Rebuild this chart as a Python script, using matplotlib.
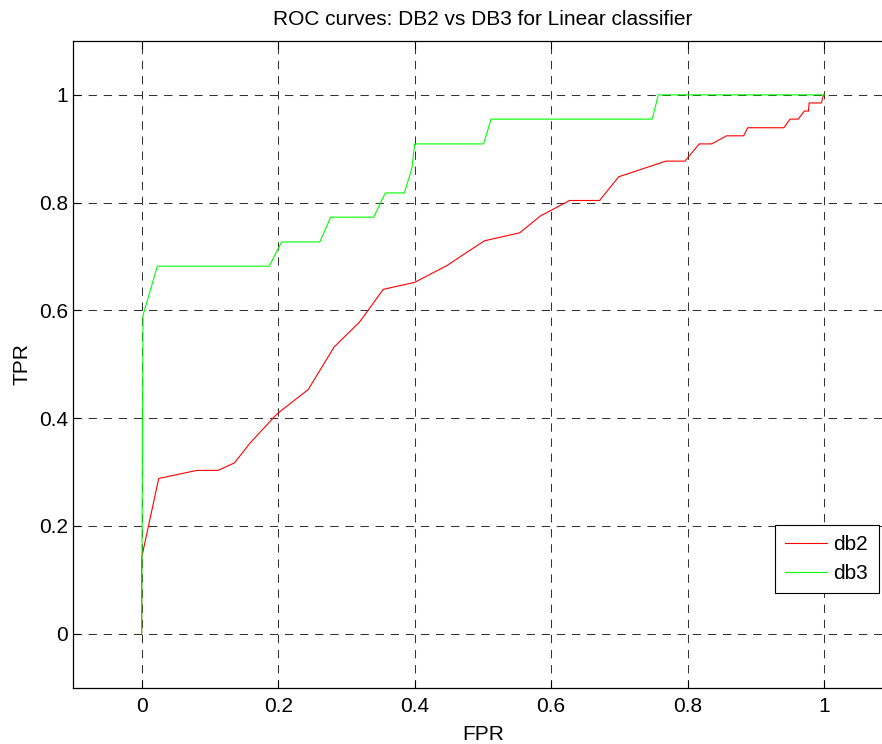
import matplotlib
matplotlib.use("Agg")
import matplotlib.pyplot as plt


# --- 1. Data ---
db2_fpr = [0.0, 0.0, 0.025, 0.081, 0.112, 0.136, 0.159, 0.1985, 0.244, 0.282,
           0.319, 0.354, 0.400, 0.447, 0.502, 0.554, 0.584, 0.627, 0.671, 0.699,
           0.768, 0.796, 0.817, 0.835, 0.857, 0.882, 0.888, 0.941, 0.950, 0.962,
           0.971, 0.977, 0.978, 0.996, 0.999, 1.0]
db2_tpr = [0.0, 0.141, 0.288, 0.303, 0.303, 0.317, 0.354, 0.408, 0.453, 0.532,
           0.578, 0.639, 0.652, 0.683, 0.729, 0.744, 0.775, 0.804, 0.804, 0.848,
           0.877, 0.877, 0.909, 0.909, 0.924, 0.924, 0.939, 0.939, 0.955, 0.955,
           0.970, 0.970, 0.985, 0.985, 1.0, 1.0]

db3_fpr = [0.0, 0.002, 0.023, 0.187, 0.205, 0.261, 0.277, 0.340, 0.357, 0.385,
           0.396, 0.400, 0.501, 0.512, 0.748, 0.757, 1.0]
db3_tpr = [0.0, 0.591, 0.682, 0.682, 0.727, 0.727, 0.773, 0.773, 0.818, 0.818,
           0.864, 0.909, 0.909, 0.955, 0.955, 1.0, 1.0]

tick_values = [0, 0.2, 0.4, 0.6, 0.8, 1]
tick_labels = ["0", "0.2", "0.4", "0.6", "0.8", "1"]


# --- 2. The Visualization Function ---
def plot_roc():
    plt.rcParams["font.family"] = ["Liberation Sans", "DejaVu Sans"]
    plt.rcParams["font.size"] = 15

    fig = plt.figure(figsize=(8.82, 7.44), dpi=100)
    # MATLAB-like axes; the right edge runs past the figure border
    ax = fig.add_axes([73.4 / 882, 56.5 / 744, 819 / 882, 646.5 / 744])

    ax.plot(db2_fpr, db2_tpr, color="#ff0000", linewidth=0.8, label="db2")
    ax.plot(db3_fpr, db3_tpr, color="#00ff00", linewidth=0.8, label="db3")

    ax.set_xlim(-0.1, 1.1)
    ax.set_ylim(-0.1, 1.1)
    ax.set_xticks(tick_values)
    ax.set_xticklabels(tick_labels)
    ax.set_yticks(tick_values)
    ax.set_yticklabels(tick_labels)

    ax.tick_params(direction="in", length=6, width=0.8, top=True, right=True)
    ax.tick_params(axis="x", pad=7)
    ax.tick_params(axis="y", pad=4)
    for side in ["left", "bottom", "top", "right"]:
        ax.spines[side].set_linewidth(0.9)

    ax.grid(True, color="0.2", linewidth=0.75, linestyle=(0, (8, 6.5)))
    ax.set_axisbelow(True)

    ax.set_title("ROC curves: DB2 vs DB3 for Linear classifier",
                 fontsize=15, pad=11.5)
    ax.set_xlabel("FPR", labelpad=6)
    ax.set_ylabel("TPR", labelpad=5)

    leg = ax.legend(
        loc="upper left",
        bbox_to_anchor=(775 / 882, 1 - 525 / 744),
        bbox_transform=fig.transFigure,
        borderaxespad=0,
        fancybox=False,
        framealpha=1,
        edgecolor="black",
        handlelength=2.0,
        handletextpad=0.3,
        labelspacing=0.45,
        borderpad=0.5,
    )
    leg.get_frame().set_linewidth(0.8)

    fig.savefig("out.png", dpi=100, facecolor="white")


# --- 3. Main Execution Block ---
if __name__ == "__main__":
    plot_roc()
